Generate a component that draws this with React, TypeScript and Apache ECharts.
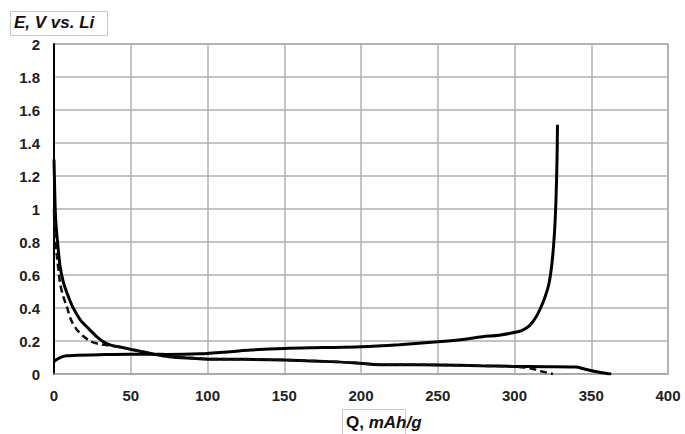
import React, { useEffect, useRef } from "react";
import * as echarts from "echarts";

// First discharge (lithiation), solid
const dischargeSolidQ = [0, 0.5, 1, 2, 4, 6, 8.5, 12, 17, 22, 28, 33, 37, 45, 52, 60, 65, 75, 90, 100, 115, 130, 150, 165, 180, 195, 208, 220, 250, 277, 299, 320, 340, 345, 351, 357, 363];
const dischargeSolidE = [1.3, 1.1, 0.95, 0.83, 0.65, 0.56, 0.49, 0.41, 0.33, 0.28, 0.225, 0.19, 0.175, 0.16, 0.145, 0.13, 0.12, 0.105, 0.095, 0.09, 0.09, 0.088, 0.085, 0.08, 0.075, 0.068, 0.058, 0.056, 0.055, 0.05, 0.046, 0.044, 0.042, 0.032, 0.018, 0.008, 0];

// Second discharge, dashed
const dischargeDashQ = [0, 0.5, 1.7, 4, 6, 8.3, 11, 14.8, 19, 23.5, 28, 34, 45, 60, 75, 90, 100, 115, 130, 150, 165, 180, 195, 208, 220, 250, 277, 299, 306, 312, 318, 325];
const dischargeDashE = [1.0, 0.85, 0.73, 0.55, 0.47, 0.41, 0.33, 0.27, 0.23, 0.2, 0.185, 0.175, 0.16, 0.13, 0.108, 0.097, 0.092, 0.09, 0.088, 0.085, 0.08, 0.075, 0.068, 0.058, 0.056, 0.055, 0.05, 0.045, 0.04, 0.03, 0.015, 0];

// Charge (delithiation), solid
const chargeQ = [0, 3, 8, 15, 34, 50, 65, 73, 95, 115, 128, 150, 175, 200, 225, 250, 265, 279, 290, 299, 305, 310, 314, 317, 320, 322.5, 324.5, 326, 327, 327.7, 328];
const chargeE = [0.075, 0.095, 0.11, 0.113, 0.118, 0.12, 0.12, 0.118, 0.122, 0.135, 0.145, 0.155, 0.16, 0.165, 0.178, 0.195, 0.208, 0.226, 0.235, 0.25, 0.265, 0.295, 0.345, 0.4, 0.47, 0.55, 0.68, 0.85, 1.05, 1.3, 1.51];

const xTicks = [0, 50, 100, 150, 200, 250, 300, 350, 400];

function pairs(xs: number[], ys: number[]) {
  return xs.map((x, i) => [x, ys[i]]);
}

export default function App() {
  const ref = useRef<HTMLDivElement>(null);
  useEffect(() => {
    if (!ref.current) return;
    const chart = echarts.init(ref.current, undefined, { renderer: "svg" });
    const labelStyle = {
      color: "#222",
      fontFamily: "Liberation Sans, Arial, sans-serif",
      fontWeight: "bold" as const,
      fontSize: 15,
    };
    chart.setOption({
      animation: false,
      backgroundColor: "#fff",
      grid: {
        left: 54,
        right: 17,
        top: 44,
        bottom: 60,
        containLabel: false,
        show: true,
        borderColor: "#a8a8a8",
        borderWidth: 1.5,
      },
      xAxis: {
        type: "value",
        min: xTicks[0],
        max: xTicks[xTicks.length - 1],
        interval: 50,
        axisLine: { show: true, lineStyle: { color: "#a8a8a8", width: 1.5 } },
        axisTick: { show: false },
        splitLine: { show: true, lineStyle: { color: "#b0b0b0", width: 1.5 } },
        axisLabel: { ...labelStyle, margin: 14 },
      },
      yAxis: {
        type: "value",
        min: 0,
        max: 2,
        interval: 0.2,
        axisLine: { show: true, lineStyle: { color: "#000", width: 2 } },
        axisTick: { show: false },
        splitLine: { show: true, lineStyle: { color: "#b0b0b0", width: 1.5 } },
        axisLabel: {
          ...labelStyle,
          margin: 14,
          formatter: (v: number) => String(Math.round(v * 10) / 10),
        },
      },
      graphic: [
        {
          type: "rect",
          shape: { x: 10.5, y: 11.5, width: 97, height: 24 },
          style: { fill: "#fff", stroke: "#c8c8c8", lineWidth: 1 },
        },
        {
          type: "text",
          x: 14,
          y: 14,
          style: {
            text: "E, V vs. Li",
            fill: "#111",
            font: "italic bold 17px 'Liberation Sans', Arial, sans-serif",
          },
        },
        {
          type: "rect",
          shape: { x: 342.5, y: 409.5, width: 63, height: 30 },
          style: { fill: "#fff", stroke: "#c8c8c8", lineWidth: 1 },
        },
        {
          type: "text",
          x: 346,
          y: 414,
          style: {
            text: "{a|Q, }{b|mAh/g}",
            rich: {
              a: { fill: "#111", fontWeight: "bold", fontSize: 17, fontFamily: "Liberation Sans, Arial, sans-serif" },
              b: { fill: "#111", fontWeight: "bold", fontStyle: "italic", fontSize: 17, fontFamily: "Liberation Sans, Arial, sans-serif" },
            },
          },
        },
      ],
      series: [
        {
          name: "discharge 1",
          type: "line",
          data: pairs(dischargeSolidQ, dischargeSolidE),
          showSymbol: false,
          smooth: 0.3,
          lineStyle: { color: "#000", width: 3 },
        },
        {
          name: "discharge 2",
          type: "line",
          data: pairs(dischargeDashQ, dischargeDashE),
          showSymbol: false,
          smooth: 0.3,
          lineStyle: { color: "#111", width: 2.5, type: [7, 4] },
        },
        {
          name: "charge",
          type: "line",
          data: pairs(chargeQ, chargeE),
          showSymbol: false,
          smooth: 0.3,
          lineStyle: { color: "#000", width: 3 },
        },
      ],
    });
    return () => chart.dispose();
  }, []);
  return (
    <div
      ref={ref}
      style={{ position: "absolute", left: 0, top: 0, width: 685, height: 434, overflow: "hidden" }}
    />
  );
}
